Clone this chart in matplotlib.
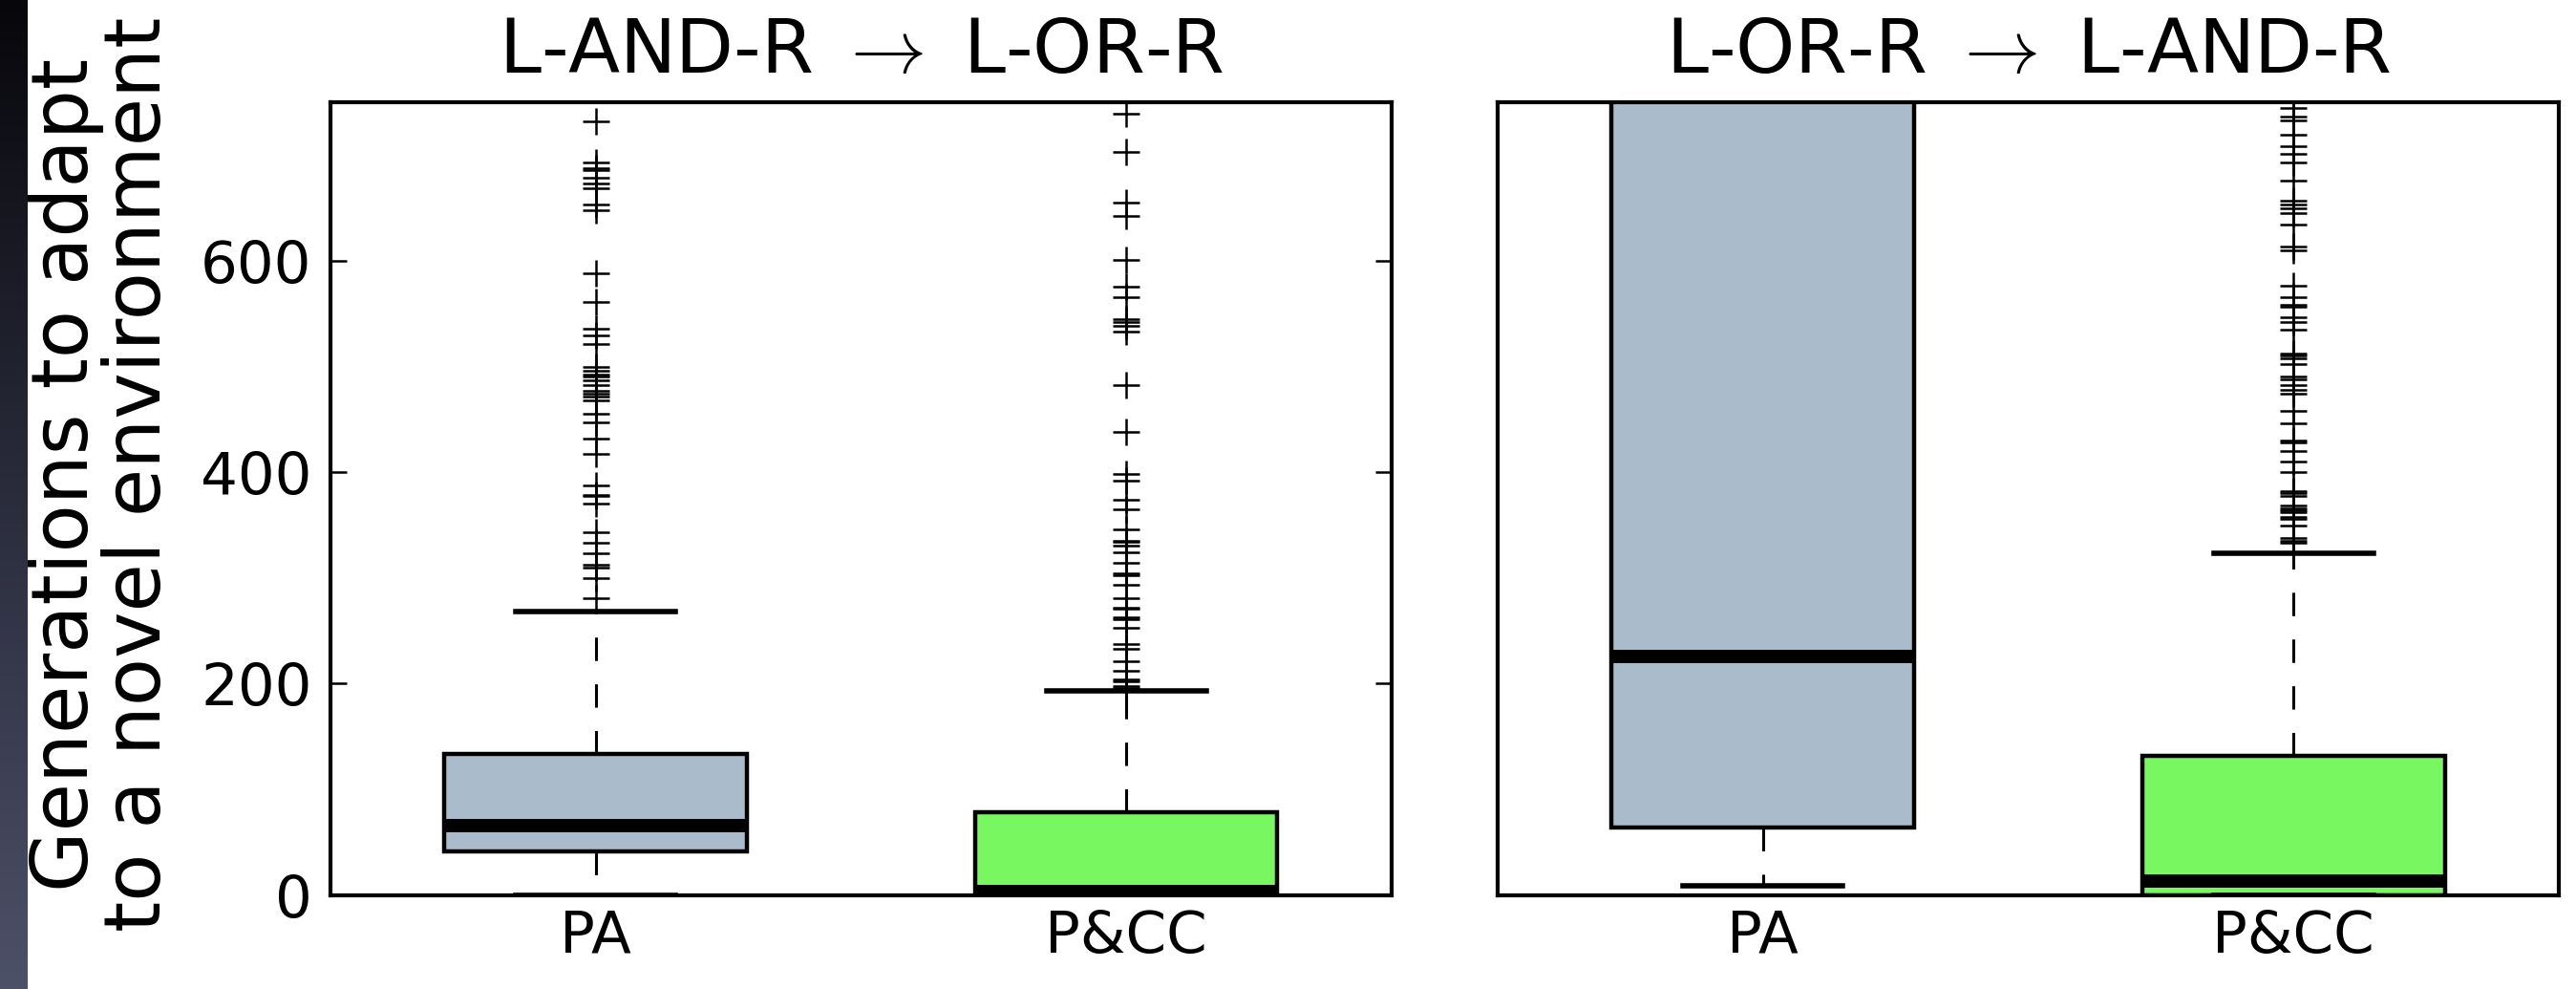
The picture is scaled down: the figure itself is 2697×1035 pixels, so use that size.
import numpy as np
import matplotlib
matplotlib.use("Agg")
import matplotlib.pyplot as plt
from matplotlib.colors import LinearSegmentedColormap

plt.rcParams["mathtext.fontset"] = "cm"

# ---- data ----
categories = ["PA", "P&CC"]
panel_titles = [r"L-AND-R $\rightarrow$ L-OR-R", r"L-OR-R $\rightarrow$ L-AND-R"]
box_colors = ["#aabbcc", "#78f760"]

# left panel: L-AND-R -> L-OR-R
left_pa_stats = [0, 41, 66, 133, 268]        # whislo, q1, median, q3, whishi
left_pa_fliers = [281, 300, 310, 312, 323, 333, 343, 370, 377, 378, 387, 417,
                  432, 447, 455, 468, 471, 474, 477, 482, 487, 490, 492, 496,
                  499, 521, 529, 536, 561, 588, 648, 653, 668, 673, 678, 686,
                  687, 693, 732]
left_pcc_stats = [0, 0, 3, 78, 193]
left_pcc_fliers = [196, 198, 202, 204, 212, 221, 233, 237, 253, 261, 263, 271,
                   272, 281, 293, 302, 304, 314, 324, 330, 334, 335, 346, 365,
                   374, 392, 398, 438, 482, 533, 538, 542, 545, 565, 575, 601,
                   642, 655, 703, 739]

# right panel: L-OR-R -> L-AND-R (PA upper quartile runs off the chart)
right_pa_stats = [9, 64, 226, 760, 1200]
right_pa_fliers = []
right_pcc_stats = [0, 0, 13, 132, 323]
right_pcc_fliers = [333, 335, 338, 349, 356, 358, 362, 364, 366, 368, 377, 380,
                    382, 400, 410, 420, 428, 430, 446, 458, 474, 478, 482, 488,
                    490, 502, 508, 510, 512, 535, 542, 546, 556, 558, 565, 576,
                    610, 613, 634, 645, 649, 653, 657, 676, 693, 701, 708, 719,
                    733, 736, 744]

y_ticks = [0, 200, 400, 600]
y_max = 750
ylabel = "Generations to adapt\nto a novel environment"


def make_stats(stats, fliers, label):
    lo, q1, med, q3, hi = stats
    return {"whislo": lo, "q1": q1, "med": med, "q3": q3, "whishi": hi,
            "fliers": np.array(fliers, dtype=float), "label": label}


panels = [
    [make_stats(left_pa_stats, left_pa_fliers, categories[0]),
     make_stats(left_pcc_stats, left_pcc_fliers, categories[1])],
    [make_stats(right_pa_stats, right_pa_fliers, categories[0]),
     make_stats(right_pcc_stats, right_pcc_fliers, categories[1])],
]

fig = plt.figure(figsize=(26.97, 10.35), dpi=100)

# dark slide strip on the far left
strip = fig.add_axes([0, 0, 0.0104, 1])
grad = np.linspace(0, 1, 256).reshape(-1, 1)
strip_cmap = LinearSegmentedColormap.from_list("strip", ["#07070b", "#2a2c3c", "#4d5168"])
strip.imshow(grad, aspect="auto", cmap=strip_cmap, extent=[0, 1, 0, 1])
strip.axis("off")

ax_positions = [[0.1283, 0.0950, 0.4119, 0.8019],
                [0.5814, 0.0950, 0.4119, 0.8019]]

for i, (stats, title) in enumerate(zip(panels, panel_titles)):
    ax = fig.add_axes(ax_positions[i])
    res = ax.bxp(stats, positions=[1, 2], widths=0.57, patch_artist=True,
                 boxprops=dict(linewidth=3.2, edgecolor="black"),
                 whiskerprops=dict(linewidth=2.2, color="black", linestyle=(0, (8, 8))),
                 capprops=dict(linewidth=4, color="black"),
                 medianprops=dict(linewidth=10, color="black"),
                 flierprops=dict(marker="+", markersize=20, markeredgewidth=1.8,
                                 markeredgecolor="black"),
                 capwidths=0.3)
    for box, c in zip(res["boxes"], box_colors):
        box.set_facecolor(c)

    ax.set_xlim(0.5, 2.5)
    ax.set_ylim(0, y_max)
    ax.set_yticks(y_ticks)
    ax.set_title(title, fontsize=57, pad=22)
    for sp in ax.spines.values():
        sp.set_linewidth(3)
    ax.tick_params(axis="x", length=0, labelsize=44, pad=10)
    if i == 0:
        ax.tick_params(axis="y", direction="in", length=12, width=1.8,
                       left=True, right=True, labelsize=44, pad=14)
    else:
        ax.tick_params(axis="y", left=False, right=False, labelleft=False)

fig.text(0.040, 0.52, ylabel, rotation=90, ha="center", va="center",
         fontsize=59, linespacing=0.95, multialignment="center")

fig.savefig("out.png", dpi=100)
